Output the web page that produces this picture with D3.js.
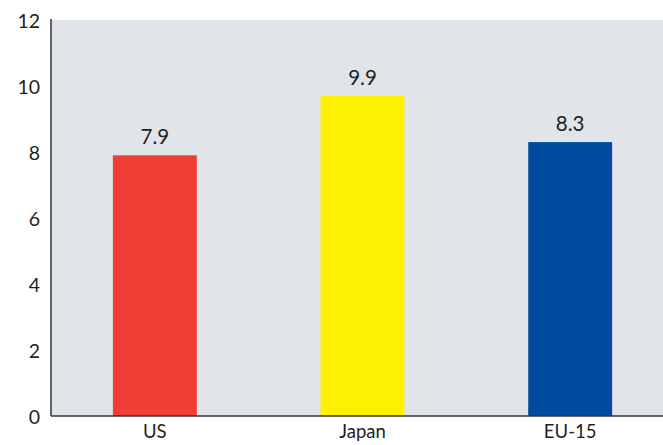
<!DOCTYPE html>
<html>
<head>
<meta charset="utf-8">
<script src="https://cdn.jsdelivr.net/npm/d3@7"></script>
<style>
  html, body { margin: 0; padding: 0; background: #ffffff; }
  svg { display: block; }
  text { font-family: "Lato", "Open Sans", sans-serif; fill: #231f20; }
</style>
</head>
<body>
<svg id="chart" width="663" height="445"></svg>
<script>
const categories = ["US", "Japan", "EU-15"];
const barHeights = [7.9, 9.7, 8.3];
const valueLabels = ["7.9", "9.9", "8.3"];
const barColors = ["#f03e35", "#fff200", "#004b9f"];
const yTicks = [0, 2, 4, 6, 8, 10, 12];

(function () {
const svg = d3.select("#chart");
const mLeft = 51, mRight = 674, mTop = 20, mBottom = 416;

const x = d3.scaleBand().domain(categories).range([mLeft, mRight])
  .paddingInner(0.596).paddingOuter(0.298);
const y = d3.scaleLinear().domain([0, 12]).range([mBottom, mTop]);

svg.append("rect").attr("x", mLeft).attr("y", mTop)
  .attr("width", mRight - mLeft).attr("height", mBottom - mTop)
  .attr("fill", "#e1e4e8");

svg.selectAll("rect.bar").data(categories).enter().append("rect")
  .attr("class", "bar")
  .attr("x", d => x(d))
  .attr("width", x.bandwidth())
  .attr("y", (d, i) => y(barHeights[i]))
  .attr("height", (d, i) => mBottom - y(barHeights[i]))
  .attr("fill", (d, i) => barColors[i]);

svg.selectAll("text.val").data(categories).enter().append("text")
  .attr("class", "val")
  .attr("x", d => x(d) + x.bandwidth() / 2)
  .attr("y", (d, i) => y(barHeights[i]) - 11)
  .attr("text-anchor", "middle")
  .attr("font-size", 20.5)
  .text((d, i) => valueLabels[i]);

const yAxis = svg.append("g").attr("transform", `translate(${mLeft},0)`)
  .call(d3.axisLeft(y).tickValues(yTicks).tickSize(0).tickPadding(11).tickFormat(d3.format("d")));
yAxis.select(".domain").attr("stroke", "#333").attr("stroke-width", 1.5)
  .attr("d", `M0,${mTop - 1}V${mBottom}`);
yAxis.selectAll("text").attr("font-size", 19.5).attr("dy", "0.4em")
  .style("font-family", "Lato, 'Open Sans', sans-serif").attr("fill", "#231f20");

const xAxis = svg.append("g").attr("transform", `translate(0,${mBottom})`)
  .call(d3.axisBottom(x).tickSize(0).tickPadding(9));
xAxis.select(".domain").attr("stroke", "#333").attr("stroke-width", 1.5)
  .attr("d", `M${mLeft},0H663`);
xAxis.selectAll("text").attr("font-size", 18.5)
  .style("font-family", "Lato, 'Open Sans', sans-serif").attr("fill", "#231f20");
})();
</script>
</body>
</html>
